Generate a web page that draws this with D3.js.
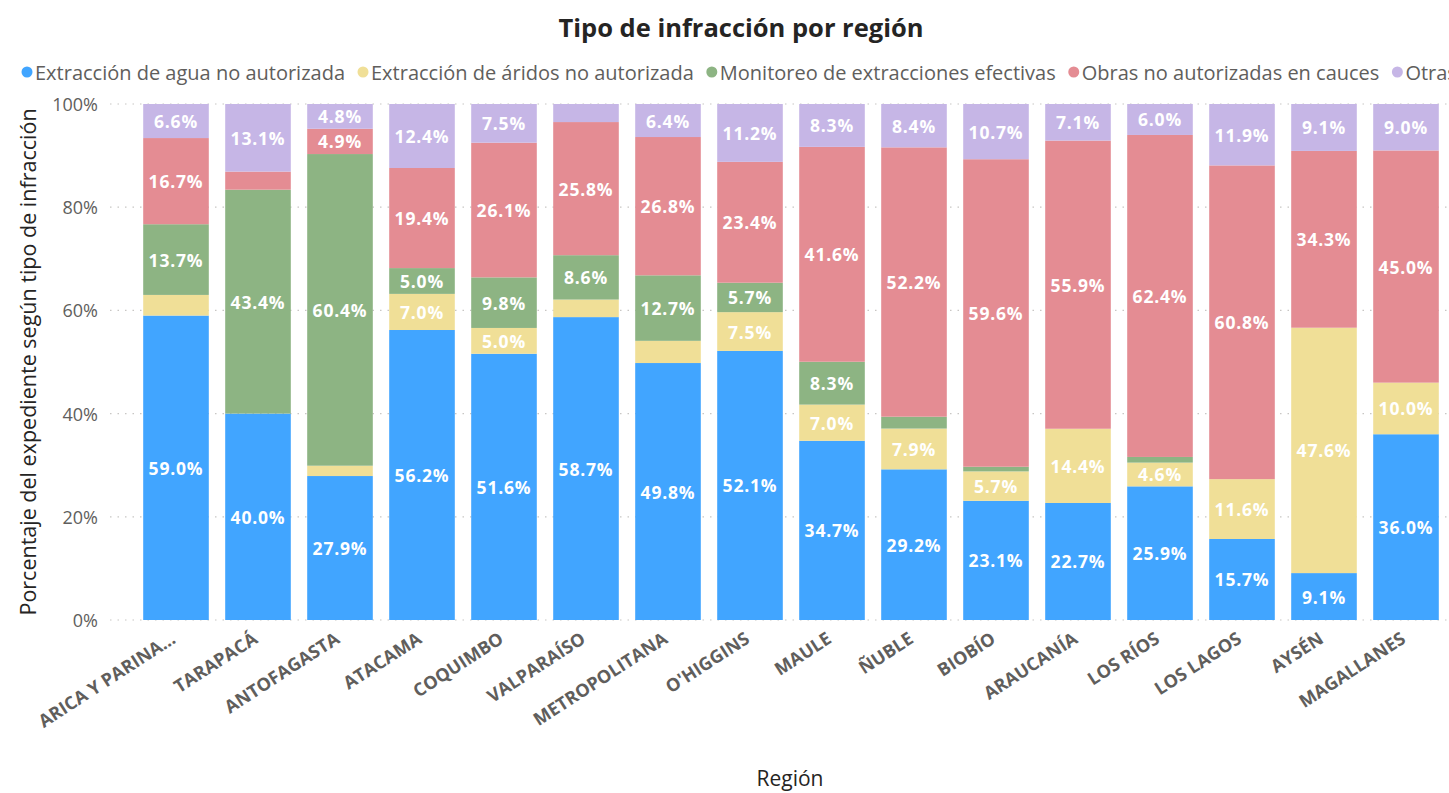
<!DOCTYPE html>
<html>
<head>
<meta charset="utf-8">
<script src="https://cdn.jsdelivr.net/npm/d3@7"></script>
<style>
  body { margin: 0; background: #fff; }
  svg { display: block; font-family: "Open Sans", sans-serif; }
</style>
</head>
<body>
<div id="vis"></div>
<script>
// regions and share (%) of each infraction type
const regions = ["ARICA Y PARINA...", "TARAPACÁ", "ANTOFAGASTA", "ATACAMA", "COQUIMBO", "VALPARAÍSO",
  "METROPOLITANA", "O'HIGGINS", "MAULE", "ÑUBLE", "BIOBÍO", "ARAUCANÍA", "LOS RÍOS", "LOS LAGOS", "AYSÉN", "MAGALLANES"];
const agua      = [59.0, 40.0, 27.9, 56.2, 51.6, 58.7, 49.8, 52.1, 34.7, 29.2, 23.1, 22.7, 25.9, 15.7, 9.1, 36.0];
const aridos    = [4.0, 0, 2.0, 7.0, 5.0, 3.4, 4.3, 7.5, 7.0, 7.9, 5.7, 14.4, 4.6, 11.6, 47.6, 10.0];
const monitoreo = [13.7, 43.4, 60.4, 5.0, 9.8, 8.6, 12.7, 5.7, 8.3, 2.3, 0.9, 0, 1.1, 0, 0, 0];
const obras     = [16.7, 3.5, 4.9, 19.4, 26.1, 25.8, 26.8, 23.4, 41.6, 52.2, 59.6, 55.9, 62.4, 60.8, 34.3, 45.0];
const otras     = [6.6, 13.1, 4.8, 12.4, 7.5, 3.5, 6.4, 11.2, 8.3, 8.4, 10.7, 7.1, 6.0, 11.9, 9.1, 9.0];

const series = ["Extracción de agua no autorizada", "Extracción de áridos no autorizada",
  "Monitoreo de extracciones efectivas", "Obras no autorizadas en cauces", "Otras"];
const yTicks = [0, 0.2, 0.4, 0.6, 0.8, 1];

const W = 1449, H = 793;
const margin = { top: 104, left: 135, right: 2, bottom: 173 };

const svg = d3.select('#vis').append('svg')
  .attr('width', W).attr('height', H);

// build rows for the stack
const cols = [agua, aridos, monitoreo, obras, otras];
const rows = regions.map(function(r, i) {
  let o = { region: r };
  series.forEach(function(s, k) { o[s] = cols[k][i]; });
  return o;
});

const color = d3.scaleOrdinal()
  .domain(series)
  .range(['#41A5FF', '#F0DF97', '#8DB483', '#E48C93', '#C6B6E6']);

const x = d3.scaleBand()
  .domain(regions)
  .range([margin.left, W - margin.right])
  .paddingInner(0.2)
  .paddingOuter(0.1);

const y = d3.scaleLinear()
  .domain([0, 1])
  .range([H - margin.bottom, margin.top]);

// title
svg.append('text')
  .attr('x', 741).attr('y', 37)
  .attr('text-anchor', 'middle')
  .style('font-size', '25.5px').style('font-weight', 700).style('fill', '#252423')
  .text('Tipo de infracción por región');

// legend
let lx = 27;
const legend = svg.append('g').attr('transform', 'translate(0,72)');
series.forEach(function(s) {
  legend.append('circle').attr('cx', lx).attr('cy', 0).attr('r', 5.5).attr('fill', color(s));
  const t = legend.append('text')
    .attr('x', lx + 8).attr('y', 0)
    .attr('dominant-baseline', 'central')
    .style('font-size', '20px').style('fill', '#605E5C')
    .text(s);
  lx += 8 + t.node().getComputedTextLength() + 18;
});

// gridlines + y tick labels
const grid = svg.append('g');
grid.selectAll('line').data(yTicks).join('line')
  .attr('x1', 110).attr('x2', W)
  .attr('y1', d => y(d)).attr('y2', d => y(d))
  .attr('stroke', '#C8C6C4').attr('stroke-width', 1.2)
  .attr('stroke-dasharray', '1.5,6');
grid.selectAll('text').data(yTicks).join('text')
  .attr('x', 98).attr('y', d => y(d))
  .attr('text-anchor', 'end').attr('dominant-baseline', 'central')
  .style('font-size', '18px').style('fill', '#605E5C')
  .text(d3.format('.0%'));

// stacked bars
const stacked = d3.stack().keys(series).offset(d3.stackOffsetExpand)(rows);

const layer = svg.append('g').selectAll('g')
  .data(stacked)
  .join('g')
  .attr('fill', d => color(d.key));

layer.selectAll('rect')
  .data(d => d)
  .join('rect')
  .attr('x', d => x(d.data.region))
  .attr('y', d => y(d[1]))
  .attr('width', x.bandwidth())
  .attr('height', d => y(d[0]) - y(d[1]));

// data labels (only where they fit)
const labels = svg.append('g');
stacked.forEach(function(s) {
  s.forEach(function(d) {
    const v = d.data[s.key];
    if (v < 4.5) return;
    labels.append('text')
      .attr('x', x(d.data.region) + x.bandwidth() / 2)
      .attr('y', (y(d[0]) + y(d[1])) / 2)
      .attr('text-anchor', 'middle').attr('dominant-baseline', 'central')
      .style('font-size', '17.5px').style('font-weight', 700).style('fill', '#fff')
      .style('letter-spacing', '0.8px')
      .text(v.toFixed(1) + '%');
  });
});

// x axis labels
svg.append('g').selectAll('text')
  .data(regions)
  .join('text')
  .attr('transform', d => 'translate(' + (x(d) + x.bandwidth() / 2 - 3) + ',' + (H - margin.bottom + 16) + ') rotate(-33)')
  .attr('text-anchor', 'end').attr('dominant-baseline', 'central')
  .style('font-size', '18px').style('font-weight', 700).style('fill', '#605E5C')
  .text(d => d);

// axis titles
svg.append('g')
  .attr('transform', 'translate(27,' + ((margin.top + H - margin.bottom) / 2) + ')')
  .append('text')
  .attr('text-anchor', 'middle').attr('dominant-baseline', 'central')
  .attr('transform', 'rotate(-90)')
  .style('font-size', '21.5px').style('fill', '#252423')
  .text('Porcentaje del expediente según tipo de infracción');

svg.append('text')
  .attr('x', 790).attr('y', 778)
  .attr('text-anchor', 'middle').attr('dominant-baseline', 'central')
  .style('font-size', '21px').style('fill', '#252423')
  .text('Región');
</script>
</body>
</html>
